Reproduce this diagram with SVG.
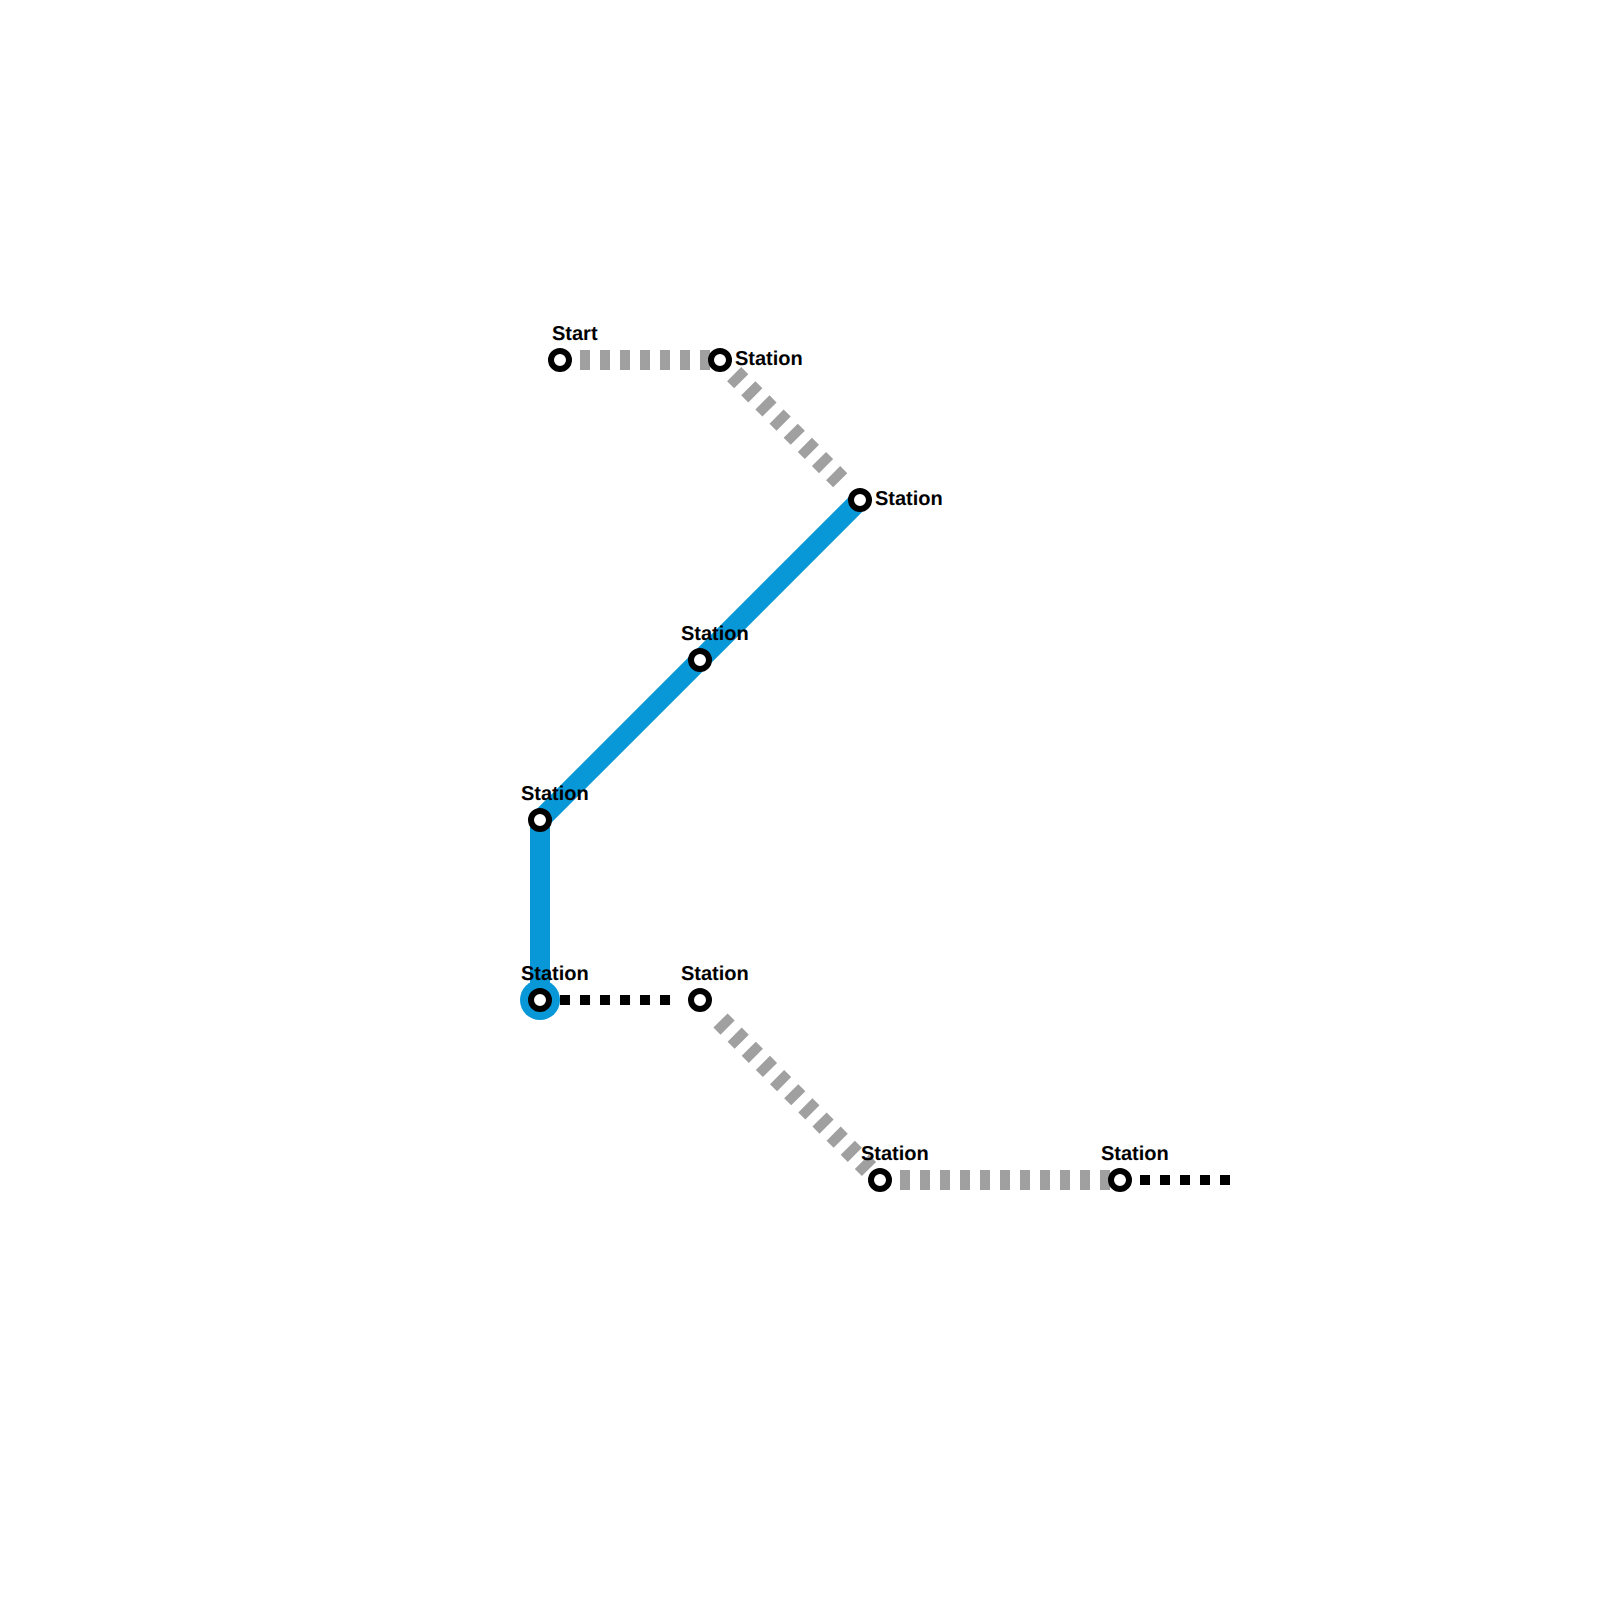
<svg xmlns="http://www.w3.org/2000/svg" width="1600" height="1600" viewBox="0 0 1600 1600">
<style>
.blue{fill:none;stroke:#0898d8;stroke-width:20}
.gray{fill:none;stroke:#a0a0a0;stroke-width:20;stroke-dasharray:10 10}
.black{fill:none;stroke:#000;stroke-width:10;stroke-dasharray:10 10}
.st{fill:#fff;stroke:#000;stroke-width:6}
text{font-family:"Liberation Sans",Arial,sans-serif;font-weight:bold;font-size:20px;fill:#000;text-rendering:geometricPrecision}
</style>
<g id="connectors">
<path class="gray" d="M580 360H710"/>
<path class="gray" d="M734.14 374.14L840.2 480.2"/>
<path class="blue" d="M860 500L540 820V1000"/>
<path class="black" d="M560 1000H670"/>
<path class="gray" d="M720.5 1020.5L869 1169"/>
<path class="gray" d="M900 1180H1110"/>
<path class="black" d="M1140 1180H1230"/>
</g>
<g id="n1"><circle class="st" cx="560" cy="360" r="9"/><text x="552" y="340">Start</text></g>
<g id="n2"><circle class="st" cx="720" cy="360" r="9"/><text x="735" y="365">Station</text></g>
<g id="n3"><circle class="st" cx="860" cy="500" r="9"/><text x="875" y="505">Station</text></g>
<g id="n4"><circle class="st" cx="700" cy="660" r="9"/><text x="681" y="640">Station</text></g>
<g id="n5"><circle class="st" cx="540" cy="820" r="9"/><text x="521" y="800">Station</text></g>
<g id="n6"><circle cx="540" cy="1000" r="20" fill="#0898d8"/><circle class="st" cx="540" cy="1000" r="9"/><text x="521" y="980">Station</text></g>
<g id="n7"><circle class="st" cx="700" cy="1000" r="9"/><text x="681" y="980">Station</text></g>
<g id="n8"><circle class="st" cx="880" cy="1180" r="9"/><text x="861" y="1160">Station</text></g>
<g id="n9"><circle class="st" cx="1120" cy="1180" r="9"/><text x="1101" y="1160">Station</text></g>
</svg>
